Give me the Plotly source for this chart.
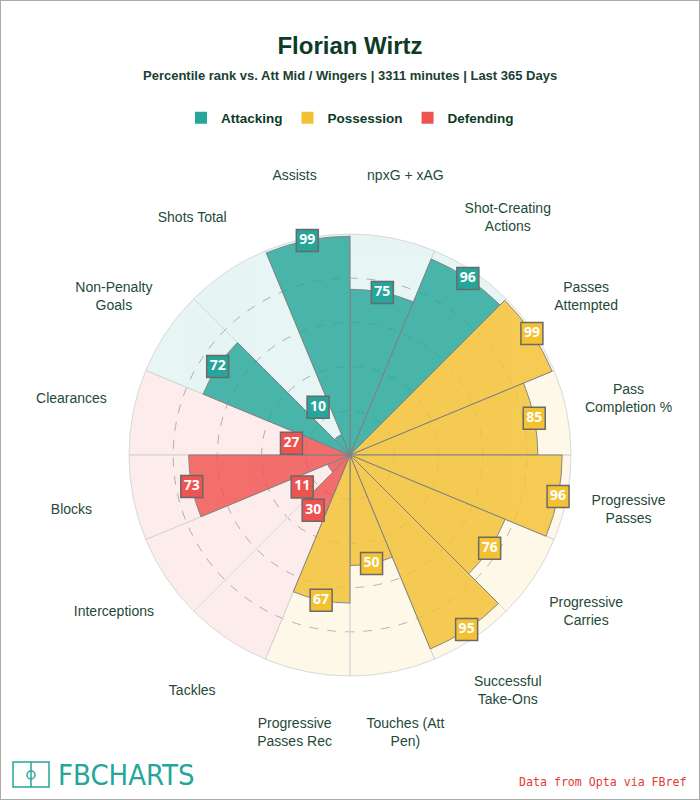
import plotly.graph_objects as go

# ---- data ----
categories = ["npxG + xAG", "Shot-Creating<br>Actions", "Passes<br>Attempted", "Pass<br>Completion %",
              "Progressive<br>Passes", "Progressive<br>Carries", "Successful<br>Take-Ons", "Touches (Att<br>Pen)",
              "Progressive<br>Passes Rec", "Tackles", "Interceptions", "Blocks", "Clearances",
              "Non-Penalty<br>Goals", "Shots Total", "Assists"]
keys = [f"c{i}" for i in range(len(categories))]
values = [75, 96, 99, 85, 96, 76, 95, 50, 67, 30, 11, 73, 27, 72, 10, 99]
groups = ["Attacking", "Attacking", "Possession", "Possession", "Possession", "Possession", "Possession",
          "Possession", "Possession", "Defending", "Defending", "Defending", "Defending",
          "Attacking", "Attacking", "Attacking"]
group_names = ["Attacking", "Possession", "Defending"]

# ---- styles ----
full_col = {"Attacking": "#26a69a", "Possession": "#f4c133", "Defending": "#ef5350"}
light_col = {"Attacking": "rgba(38,166,154,0.11)", "Possession": "rgba(244,193,51,0.11)",
             "Defending": "rgba(239,83,80,0.11)"}
text_col = "#1f4a37"
title_col = "#0d3b26"

fig = go.Figure()

# background wedges
fig.add_trace(go.Barpolar(
    r=[100] * len(keys), theta=keys,
    marker=dict(color=[light_col[g] for g in groups], line=dict(color="#d8d8d8", width=1)),
    showlegend=False, hoverinfo="skip"))

# value bars
fig.add_trace(go.Barpolar(
    r=values, theta=keys,
    marker=dict(color=[full_col[g] for g in groups], line=dict(color="#6f6f6f", width=1)),
    opacity=0.82, showlegend=False, hoverinfo="skip"))

# value label boxes
fig.add_trace(go.Scatterpolar(
    r=[max(v, 26) for v in values], theta=keys, mode="markers+text",
    text=[str(v) for v in values], textposition="middle center",
    textfont=dict(color="white", size=14, family="Open Sans", weight="bold"),
    marker=dict(symbol="square", size=22, color=[full_col[g] for g in groups],
                line=dict(color="#6a6a6a", width=1.5)),
    showlegend=False, hoverinfo="skip", cliponaxis=False))

# category labels
fig.add_trace(go.Scatterpolar(
    r=[128.5] * len(keys), theta=keys, mode="text", text=categories,
    textposition="middle center",
    textfont=dict(color=text_col, size=14, family="Liberation Sans, Arial"),
    showlegend=False, hoverinfo="skip", cliponaxis=False))

# legend entries
for g in group_names:
    fig.add_trace(go.Scatterpolar(
        r=[None], theta=[keys[0]], mode="markers", name=g,
        marker=dict(symbol="square", size=12, color=full_col[g])))

R = 221 * 1.30
cx, cy = 350, 455
fig.update_layout(
    width=700, height=800,
    margin=dict(l=0, r=0, t=0, b=0),
    paper_bgcolor="white", plot_bgcolor="white",
    title=dict(text="<b>Florian Wirtz</b>", x=0.5, xanchor="center", y=1 - 46 / 800, yanchor="middle",
               font=dict(size=24, color=title_col, family="Liberation Sans, Arial")),
    polar=dict(
        domain=dict(x=[(cx - R) / 700, (cx + R) / 700], y=[1 - (cy + R) / 800, 1 - (cy - R) / 800]),
        bgcolor="rgba(0,0,0,0)",
        barmode="overlay", bargap=0,
        angularaxis=dict(type="category", categoryorder="array", categoryarray=keys,
                         rotation=90 - 11.25, direction="clockwise",
                         showgrid=False, showline=False, showticklabels=False, ticks=""),
        radialaxis=dict(range=[0, 130], tickvals=[20, 40, 60, 80], showticklabels=False, ticks="",
                        showline=False, gridcolor="#b5b5b5", griddash="dash", gridwidth=1),
    ),
    legend=dict(orientation="h", x=0.5, xanchor="center", y=1 - 118 / 800, yanchor="middle",
                font=dict(size=13.5, color=title_col, family="Liberation Sans, Arial", weight="bold"),
                itemclick=False, itemdoubleclick=False, itemwidth=30),
    showlegend=True,
)

fig.add_annotation(text="<b>Percentile rank vs. Att Mid / Wingers | 3311 minutes | Last 365 Days</b>",
                   x=0.5, y=1 - 76 / 800, xref="paper", yref="paper", showarrow=False,
                   xanchor="center", yanchor="middle",
                   font=dict(size=13, color="#1a4032", family="Liberation Sans, Arial"))
fig.add_annotation(text="FBCHARTS",
                   x=56 / 700, y=1 - 775 / 800, xref="paper", yref="paper", xanchor="left",
                   yanchor="middle", showarrow=False,
                   font=dict(size=29, color="#26a69a",
                             family="Liberation Sans Narrow, DejaVu Sans Condensed, Liberation Sans"))
fig.add_annotation(text="Data from Opta via FBref",
                   x=689 / 700, y=1 - 782 / 800, xref="paper", yref="paper", xanchor="right",
                   yanchor="middle", showarrow=False,
                   font=dict(size=11.6, color="#e53935", family="DejaVu Sans Mono, Liberation Mono"))

# logo icon and border
shapes = [
    dict(type="rect", xref="paper", yref="paper", x0=13 / 700, x1=49 / 700, y0=1 - 787 / 800, y1=1 - 762 / 800,
         line=dict(color="#26a69a", width=1.5)),
    dict(type="line", xref="paper", yref="paper", x0=31 / 700, x1=31 / 700, y0=1 - 787 / 800, y1=1 - 762 / 800,
         line=dict(color="#26a69a", width=1.5)),
    dict(type="circle", xref="paper", yref="paper", x0=27 / 700, x1=35 / 700, y0=1 - 779 / 800, y1=1 - 771 / 800,
         line=dict(color="#26a69a", width=1.5)),
    dict(type="rect", xref="paper", yref="paper", x0=0, x1=1, y0=0, y1=1,
         line=dict(color="#aaaaaa", width=2)),
]
fig.update_layout(shapes=shapes)

fig.write_html("out.html", config={"displayModeBar": False},
               post_script="document.body.style.margin='0';document.body.style.overflow='hidden';")
